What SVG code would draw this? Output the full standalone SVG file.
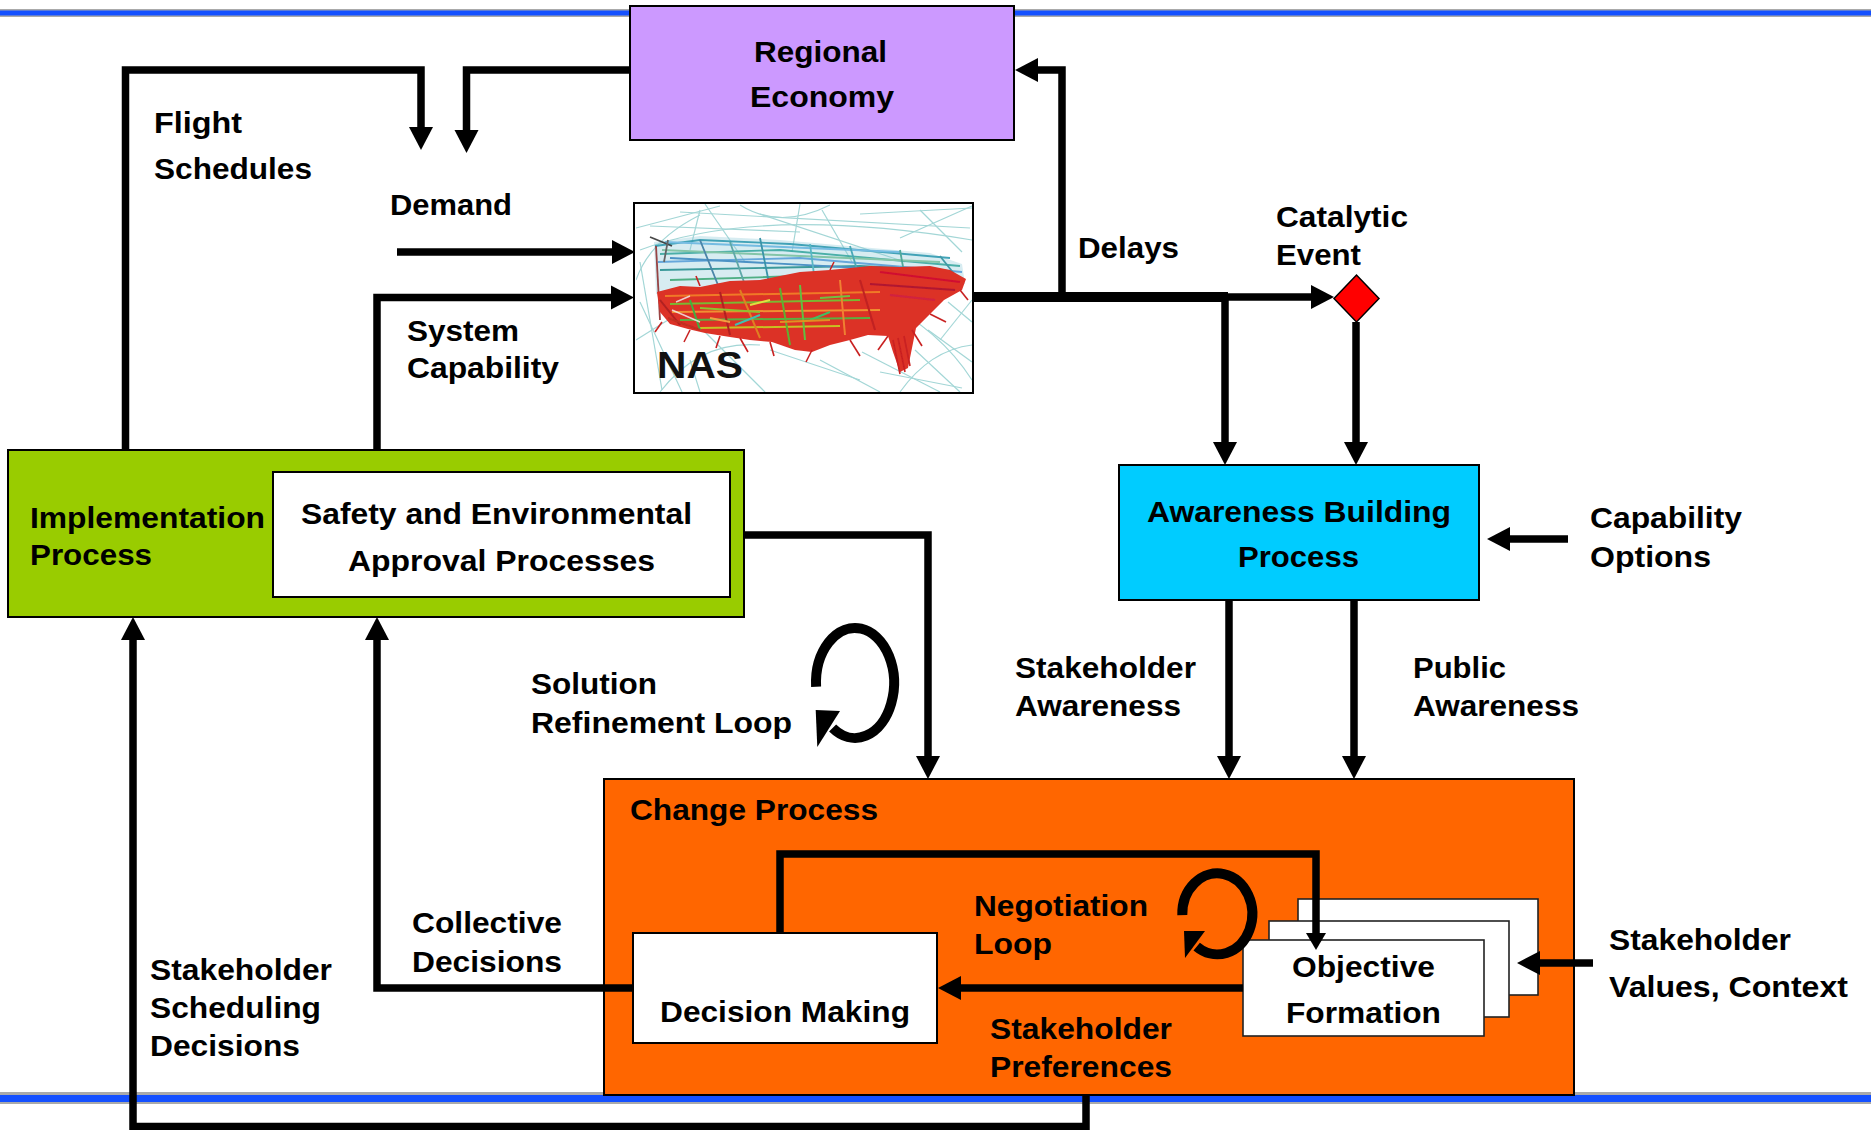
<svg xmlns="http://www.w3.org/2000/svg" width="1871" height="1130" viewBox="0 0 1871 1130">
<defs>
<style>
.t{font-family:"Liberation Sans",Arial,Helvetica,sans-serif;font-weight:bold;font-size:30px;fill:#000}
.box{stroke:#000;stroke-width:2}
.w{stroke:#000;stroke-width:7.5;fill:none;stroke-linejoin:miter}
.stk{fill:#fff;stroke:#222;stroke-width:1.6}
</style>
<marker id="ah" markerUnits="userSpaceOnUse" markerWidth="26" markerHeight="26" refX="0" refY="12" orient="auto" overflow="visible">
<path d="M0,0 L23,12 L0,24 Z" fill="#000"/>
</marker>
<marker id="ahs" markerUnits="userSpaceOnUse" markerWidth="20" markerHeight="22" refX="0" refY="10" orient="auto" overflow="visible">
<path d="M0,0 L17,10 L0,20 Z" fill="#000"/>
</marker>
<clipPath id="nasclip"><rect x="635" y="204" width="337" height="188"/></clipPath>
<filter id="soft" x="0" y="0" width="1" height="1"><feGaussianBlur stdDeviation="0.6"/></filter>
</defs>

<rect width="1871" height="1130" fill="#fff"/>

<!-- frame bars -->
<g id="bars">
<rect x="0" y="9" width="1871" height="8" fill="#aaa"/>
<rect x="0" y="10.5" width="1871" height="5" fill="#1450ff"/>
<rect x="0" y="1092" width="1871" height="12" fill="#aaa"/>
<rect x="0" y="1095" width="1871" height="7" fill="#1450ff"/>
</g>

<!-- nodes -->
<g id="regional-economy">
<rect class="box" x="630" y="6" width="384" height="134" fill="#cc99ff"/>
<text class="t" x="754" y="62" textLength="133" lengthAdjust="spacingAndGlyphs">Regional</text>
<text class="t" x="750" y="107" textLength="144" lengthAdjust="spacingAndGlyphs">Economy</text>
</g>

<g id="nas">
<rect x="634" y="203" width="339" height="190" fill="#fff"/>
<g clip-path="url(#nasclip)">
<g filter="url(#soft)">
<!-- faint track web -->
<g stroke="#8ccccc" stroke-width="1.2" fill="none" opacity="0.8">
<path d="M636,228 L720,206"/>
<path d="M680,212 L970,228"/>
<path d="M705,204 L745,262"/>
<path d="M800,204 L792,252"/>
<path d="M860,214 L972,208"/>
<path d="M900,238 L972,206"/>
<path d="M640,262 L662,390"/>
<path d="M705,332 L765,392"/>
<path d="M862,352 L940,392"/>
<path d="M928,330 L972,362"/>
<path d="M640,302 L682,392"/>
<path d="M948,302 L972,322"/>
<path d="M760,214 L905,262"/>
<path d="M650,226 L800,232"/>
<path d="M822,210 L852,262"/>
<path d="M920,210 L962,252"/>
<path d="M690,360 L700,392"/>
<path d="M880,372 L962,388"/>
<path d="M770,350 L860,380"/>
<path d="M636,340 L700,300"/>
<path d="M940,340 L972,300"/>
<path d="M640,250 Q760,205 972,240"/>
<path d="M660,392 Q700,340 760,345"/>
<path d="M900,392 Q930,350 972,345"/>
<path d="M740,205 Q780,230 830,205"/>
<path d="M636,280 Q650,240 700,215"/>
<path d="M880,300 Q940,330 972,380"/>
<path d="M820,360 L880,392"/>
<path d="M915,350 L960,392"/>
<path d="M700,210 L690,250"/>
</g>
<!-- northern tracks -->
<path d="M654,242 L700,236 L780,240 L860,247 L930,253 L962,264 L965,284 L656,294 Z" fill="#8cc8d8" opacity="0.35"/>
<g stroke-width="1.8" fill="none" opacity="0.9">
<path d="M655,246 L700,240 L790,244 L950,258" stroke="#2f9ab0"/>
<path d="M660,254 L780,250 L960,266" stroke="#3aa8a0"/>
<path d="M658,262 L800,258 L962,272" stroke="#5a9fd8"/>
<path d="M660,270 L860,266 L940,270" stroke="#2a9090"/>
<path d="M665,242 L760,246 L900,252" stroke="#6ab6e0"/>
<path d="M670,280 L800,276 L900,278" stroke="#40a878"/>
<path d="M662,250 L940,262" stroke="#7ac0a0"/>
<path d="M670,258 L900,270" stroke="#3c88c0"/>
<path d="M700,240 L720,290" stroke="#3a7aa0"/>
<path d="M730,242 L745,285" stroke="#50a0a0"/>
<path d="M760,238 L770,288" stroke="#2a8aa0"/>
<path d="M810,244 L815,282" stroke="#4ab0c0"/>
<path d="M850,246 L860,280" stroke="#3aa0b0"/>
<path d="M900,250 L905,278" stroke="#40a090"/>
<path d="M940,256 L955,275" stroke="#3090a0"/>
<path d="M656,246 L660,320" stroke="#903030"/>
<path d="M650,237 L672,246" stroke="#333"/>
<path d="M668,240 L664,262" stroke="#555"/>
</g>
<!-- dense core traffic -->
<path d="M657,292 L680,286 L700,287 L730,281 L760,280 L800,272 L830,270 L870,266 L900,267 L930,266 L950,270 L966,279 L962,290 L944,300 L930,314 L916,328 L912,348 L908,368 L900,372 L893,352 L888,336 L868,335 L850,340 L830,345 L812,352 L795,350 L772,342 L750,340 L730,337 L705,333 L688,329 L670,324 L660,312 Z" fill="#dc3028"/>
<g stroke-width="2" fill="none">
<path d="M665,296 L880,292" stroke="#f07a28"/>
<path d="M670,304 L860,300" stroke="#7ab830"/>
<path d="M672,312 L880,310" stroke="#f09030"/>
<path d="M680,320 L870,318" stroke="#5cb040"/>
<path d="M700,328 L840,326" stroke="#c8c020"/>
<path d="M690,300 L700,330" stroke="#40b040"/>
<path d="M740,290 L760,338" stroke="#e08020"/>
<path d="M800,285 L805,340" stroke="#60c040"/>
<path d="M840,280 L845,335" stroke="#f08030"/>
<path d="M720,292 L730,335" stroke="#b02020"/>
<path d="M780,288 L790,345" stroke="#60b030"/>
<path d="M860,280 L875,330" stroke="#c02020"/>
<path d="M880,272 L960,282" stroke="#d01030"/>
<path d="M870,284 L955,290" stroke="#b01830"/>
<path d="M890,295 L935,300" stroke="#d02040"/>
<path d="M660,300 L680,325" stroke="#b02020"/>
<path d="M668,318 L700,330" stroke="#c03020"/>
<path d="M735,325 L760,315" stroke="#40c0b0"/>
<path d="M810,320 L830,312" stroke="#40c060"/>
<path d="M750,305 L770,300" stroke="#e0e040"/>
<path d="M700,308 L760,312" stroke="#90c030"/>
<path d="M780,322 L830,320" stroke="#e09020"/>
<path d="M820,298 L850,296" stroke="#70c040"/>
<path d="M710,318 L730,322" stroke="#f0a040"/>
</g>
<!-- ragged edges and southern spur -->
<g stroke-width="1.6" fill="none" stroke="#c82020">
<path d="M662,322 L655,332"/>
<path d="M690,330 L684,342"/>
<path d="M720,336 L716,348"/>
<path d="M770,342 L774,356"/>
<path d="M812,350 L806,362"/>
<path d="M888,336 L878,350"/>
<path d="M893,340 L900,374"/>
<path d="M898,338 L905,372"/>
<path d="M904,336 L910,366"/>
<path d="M912,330 L922,346"/>
<path d="M930,314 L946,322"/>
<path d="M960,290 L968,300"/>
<path d="M850,340 L860,356"/>
<path d="M740,338 L748,352"/>
<path d="M700,286 L696,276"/>
<path d="M830,270 L834,262"/>
</g>
<g stroke="#f4f4f4" stroke-width="1.4" fill="none" opacity="0.8">
<path d="M672,310 L700,322"/>
<path d="M676,302 L690,296"/>
</g>
</g>
<text x="657" y="378" font-family="Liberation Sans, Arial, sans-serif" font-weight="bold" font-size="36" textLength="86" lengthAdjust="spacingAndGlyphs" fill="#111">NAS</text>
</g>
<rect x="634" y="203" width="339" height="190" fill="none" stroke="#000" stroke-width="2"/>
</g>

<g id="catalytic-event">
<polygon points="1334,298.5 1356.5,275 1379,298.5 1356.5,322" fill="#ff0000" stroke="#000" stroke-width="1.5"/>
</g>

<g id="implementation-process">
<rect class="box" x="8" y="450" width="736" height="167" fill="#99cc00"/>
<text class="t" x="30" y="528" textLength="235" lengthAdjust="spacingAndGlyphs">Implementation</text>
<text class="t" x="30" y="565" textLength="122" lengthAdjust="spacingAndGlyphs">Process</text>
</g>

<g id="approval-processes">
<rect class="box" x="273" y="472" width="457" height="125" fill="#fff"/>
<text class="t" x="301" y="524" textLength="391" lengthAdjust="spacingAndGlyphs">Safety and Environmental</text>
<text class="t" x="348" y="571" textLength="307" lengthAdjust="spacingAndGlyphs">Approval Processes</text>
</g>

<g id="awareness-building">
<rect class="box" x="1119" y="465" width="360" height="135" fill="#00ccff"/>
<text class="t" x="1147" y="522" textLength="304" lengthAdjust="spacingAndGlyphs">Awareness Building</text>
<text class="t" x="1238" y="567" textLength="121" lengthAdjust="spacingAndGlyphs">Process</text>
</g>

<g id="change-process">
<rect class="box" x="604" y="779" width="970" height="316" fill="#ff6600"/>
<text class="t" x="630" y="820" textLength="248" lengthAdjust="spacingAndGlyphs">Change Process</text>
</g>

<g id="decision-making">
<rect class="box" x="633" y="933" width="304" height="110" fill="#fff"/>
<text class="t" x="660" y="1022" textLength="250" lengthAdjust="spacingAndGlyphs">Decision Making</text>
</g>

<g id="objective-formation">
<rect class="stk" x="1298" y="899" width="240" height="96"/>
<rect class="stk" x="1269" y="921" width="240" height="96"/>
<rect class="stk" x="1243" y="940" width="241" height="96"/>
<text class="t" x="1292" y="977" textLength="143" lengthAdjust="spacingAndGlyphs">Objective</text>
<text class="t" x="1286" y="1023" textLength="155" lengthAdjust="spacingAndGlyphs">Formation</text>
</g>

<!-- connectors -->
<g id="connectors">
<path class="w" d="M125.5,450 V70 H421 V127" marker-end="url(#ah)"/>
<path class="w" d="M630,70 H466.5 V130" marker-end="url(#ah)"/>
<path class="w" d="M397,252 H612" marker-end="url(#ah)"/>
<path class="w" d="M377,450 V297.5 H611" marker-end="url(#ah)"/>
<path d="M973,297 H1228" stroke="#000" stroke-width="10" fill="none"/>
<path class="w" d="M1226,297 H1311" marker-end="url(#ah)"/>
<path class="w" d="M1062,300 V70 H1038" marker-end="url(#ah)"/>
<path class="w" d="M1225,297 V442" marker-end="url(#ah)"/>
<path class="w" d="M1356,322 V442" marker-end="url(#ah)"/>
<path class="w" d="M1568,539 H1510" marker-end="url(#ah)"/>
<path class="w" d="M1229,600 V756" marker-end="url(#ah)"/>
<path class="w" d="M1354,600 V756" marker-end="url(#ah)"/>
<path class="w" d="M744,535 H928 V756" marker-end="url(#ah)"/>
<path class="w" d="M780,934 V854 H1316 V933" marker-end="url(#ahs)"/>
<path class="w" d="M1243,988 H961" marker-end="url(#ah)"/>
<path class="w" d="M633,988 H377 V640" marker-end="url(#ah)"/>
<path class="w" d="M1086,1095 V1126.5 H133 V640" marker-end="url(#ah)"/>
<path class="w" d="M1593,963 H1540" marker-end="url(#ah)"/>
<!-- loop symbols -->
<path d="M816.1,686.8 A39,55 0 1 1 832.6,728" stroke="#000" stroke-width="10" fill="none"/>
<polygon points="815.7,710 840,711 817.3,747" fill="#000"/>
<path d="M1182.3,915.2 A35,40.5 0 1 1 1196.7,946.6" stroke="#000" stroke-width="10" fill="none"/>
<polygon points="1184,931 1205,931 1185,958" fill="#000"/>
</g>

<!-- connector labels -->
<g id="labels">
<text class="t" x="154" y="133" textLength="88" lengthAdjust="spacingAndGlyphs">Flight</text>
<text class="t" x="154" y="179" textLength="158" lengthAdjust="spacingAndGlyphs">Schedules</text>
<text class="t" x="390" y="215" textLength="122" lengthAdjust="spacingAndGlyphs">Demand</text>
<text class="t" x="407" y="341" textLength="112" lengthAdjust="spacingAndGlyphs">System</text>
<text class="t" x="407" y="378" textLength="152" lengthAdjust="spacingAndGlyphs">Capability</text>
<text class="t" x="1078" y="258" textLength="101" lengthAdjust="spacingAndGlyphs">Delays</text>
<text class="t" x="1276" y="227" textLength="132" lengthAdjust="spacingAndGlyphs">Catalytic</text>
<text class="t" x="1276" y="265" textLength="85" lengthAdjust="spacingAndGlyphs">Event</text>
<text class="t" x="1590" y="528" textLength="152" lengthAdjust="spacingAndGlyphs">Capability</text>
<text class="t" x="1590" y="567" textLength="121" lengthAdjust="spacingAndGlyphs">Options</text>
<text class="t" x="1015" y="678" textLength="181" lengthAdjust="spacingAndGlyphs">Stakeholder</text>
<text class="t" x="1015" y="716" textLength="166" lengthAdjust="spacingAndGlyphs">Awareness</text>
<text class="t" x="1413" y="678" textLength="93" lengthAdjust="spacingAndGlyphs">Public</text>
<text class="t" x="1413" y="716" textLength="166" lengthAdjust="spacingAndGlyphs">Awareness</text>
<text class="t" x="531" y="694" textLength="126" lengthAdjust="spacingAndGlyphs">Solution</text>
<text class="t" x="531" y="733" textLength="261" lengthAdjust="spacingAndGlyphs">Refinement Loop</text>
<text class="t" x="974" y="916" textLength="174" lengthAdjust="spacingAndGlyphs">Negotiation</text>
<text class="t" x="974" y="954" textLength="78" lengthAdjust="spacingAndGlyphs">Loop</text>
<text class="t" x="990" y="1039" textLength="182" lengthAdjust="spacingAndGlyphs">Stakeholder</text>
<text class="t" x="990" y="1077" textLength="182" lengthAdjust="spacingAndGlyphs">Preferences</text>
<text class="t" x="412" y="933" textLength="150" lengthAdjust="spacingAndGlyphs">Collective</text>
<text class="t" x="412" y="972" textLength="150" lengthAdjust="spacingAndGlyphs">Decisions</text>
<text class="t" x="150" y="980" textLength="182" lengthAdjust="spacingAndGlyphs">Stakeholder</text>
<text class="t" x="150" y="1018" textLength="171" lengthAdjust="spacingAndGlyphs">Scheduling</text>
<text class="t" x="150" y="1056" textLength="150" lengthAdjust="spacingAndGlyphs">Decisions</text>
<text class="t" x="1609" y="950" textLength="182" lengthAdjust="spacingAndGlyphs">Stakeholder</text>
<text class="t" x="1609" y="997" textLength="239" lengthAdjust="spacingAndGlyphs">Values, Context</text>
</g>
</svg>
